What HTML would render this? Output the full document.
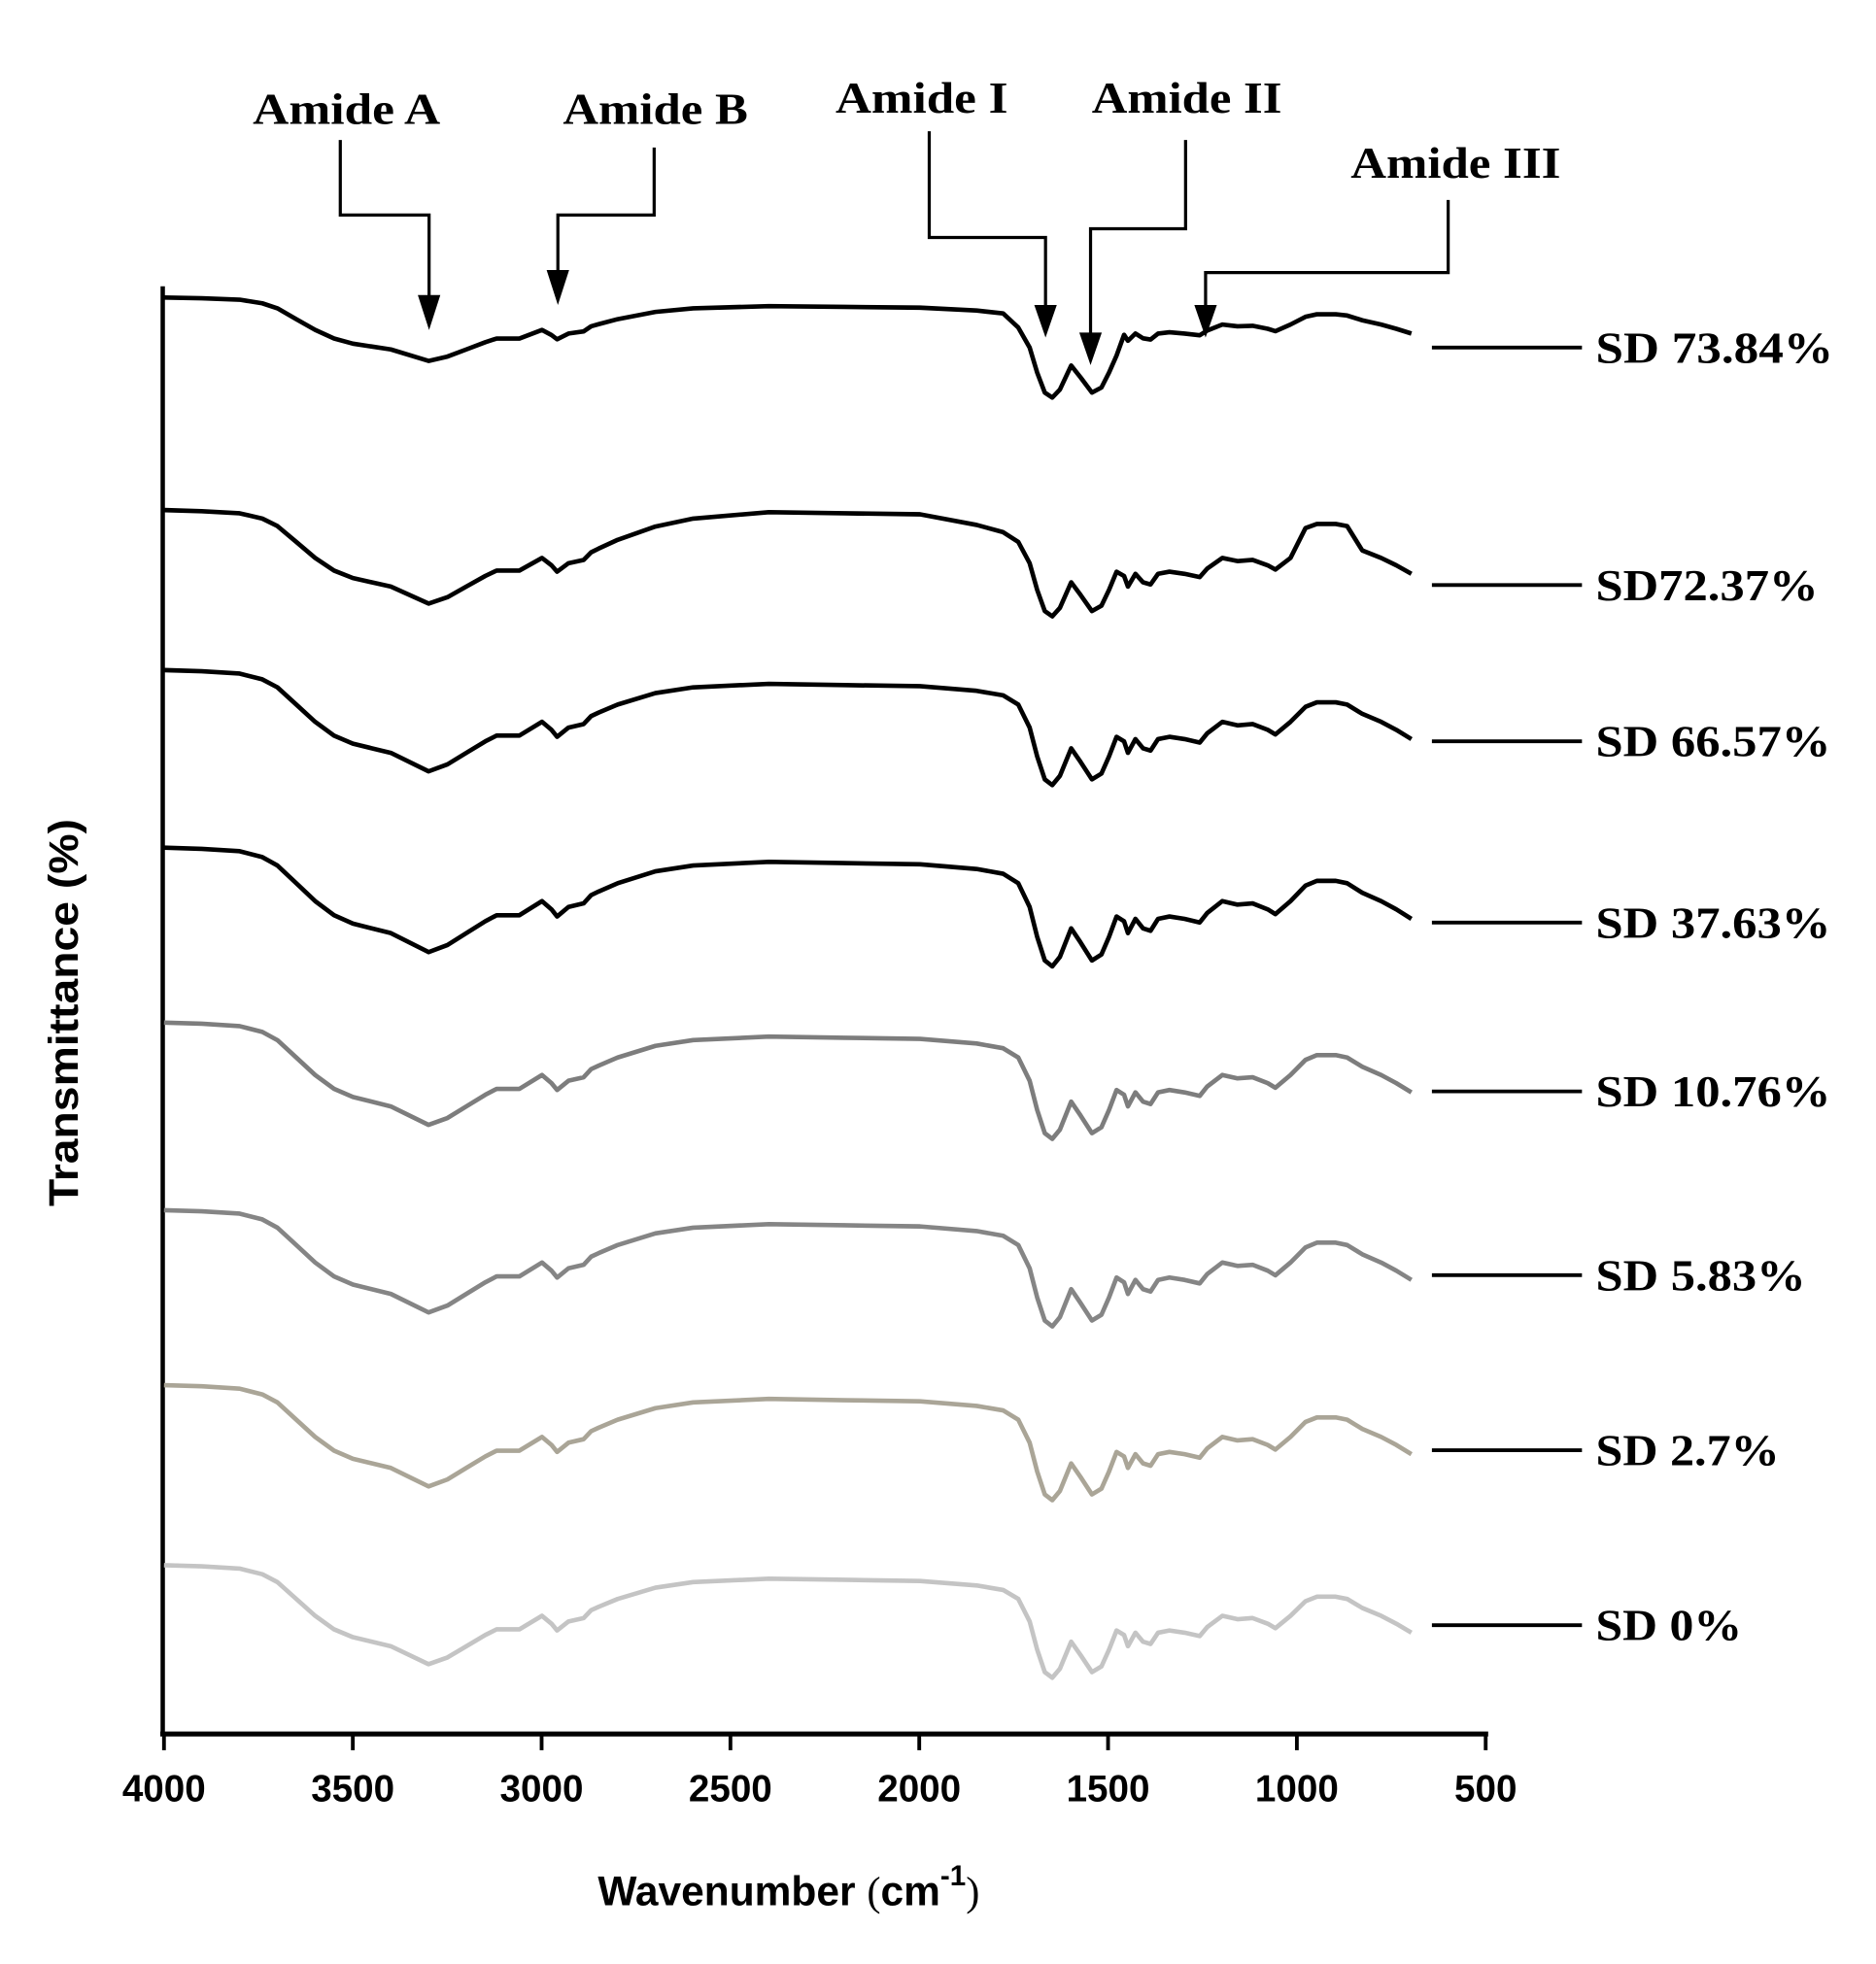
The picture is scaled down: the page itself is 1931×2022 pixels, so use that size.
<!DOCTYPE html>
<html><head><meta charset="utf-8"><style>
html,body{margin:0;padding:0;background:#fff;}
svg{display:block;}
.t{font-family:"Liberation Serif",serif;font-weight:bold;font-size:35px;fill:#000;}
.a{font-family:"Liberation Sans",sans-serif;font-weight:bold;fill:#000;}
</style></head><body>
<svg id="s" width="1931" height="2022" viewBox="0 0 1500 1571" xmlns="http://www.w3.org/2000/svg">
<rect width="1500" height="1571" fill="#fff"/>
<line x1="130" y1="229" x2="130" y2="1388" stroke="#000" stroke-width="3.5"/>
<line x1="128" y1="1387" x2="1190" y2="1387" stroke="#000" stroke-width="4"/>
<g stroke="#000" stroke-width="3">
<line x1="131" y1="1387" x2="131" y2="1400"/><line x1="282" y1="1387" x2="282" y2="1400"/>
<line x1="433" y1="1387" x2="433" y2="1400"/><line x1="584" y1="1387" x2="584" y2="1400"/>
<line x1="735" y1="1387" x2="735" y2="1400"/><line x1="886" y1="1387" x2="886" y2="1400"/>
<line x1="1037" y1="1387" x2="1037" y2="1400"/><line x1="1188" y1="1387" x2="1188" y2="1400"/>
</g>
<g class="a" font-size="30" text-anchor="middle">
<text x="131" y="1441">4000</text><text x="282" y="1441">3500</text><text x="433" y="1441">3000</text>
<text x="584" y="1441">2500</text><text x="735" y="1441">2000</text><text x="886" y="1441">1500</text>
<text x="1037" y="1441">1000</text><text x="1188" y="1441">500</text>
</g>
<text class="a" font-size="33" x="478" y="1524">Wavenumber <tspan font-family="Liberation Serif" font-weight="normal">(</tspan>cm<tspan font-size="23" dy="-16">-1</tspan><tspan font-family="Liberation Serif" font-weight="normal" dy="16">)</tspan></text>
<text class="a" font-size="33" transform="translate(62,810) rotate(-90)" text-anchor="middle" textLength="310" lengthAdjust="spacingAndGlyphs">Transmittance (%)</text>
<g class="t">
<text x="202" y="99" textLength="150" lengthAdjust="spacingAndGlyphs">Amide A</text>
<text x="450" y="99" textLength="148" lengthAdjust="spacingAndGlyphs">Amide B</text>
<text x="668" y="90" textLength="138" lengthAdjust="spacingAndGlyphs">Amide I</text>
<text x="873" y="90" textLength="152" lengthAdjust="spacingAndGlyphs">Amide II</text>
<text x="1080" y="142" textLength="168" lengthAdjust="spacingAndGlyphs">Amide III</text>
</g>
<g fill="none" stroke="#000" stroke-width="2.5">
<polyline points="272,112 272,172 343,172 343,240"/>
<polyline points="523,118 523,172 446,172 446,222"/>
<polyline points="743,105 743,190 836,190 836,248"/>
<polyline points="948,112 948,183 872,183 872,270"/>
<polyline points="1158,160 1158,218 964,218 964,248"/>
</g>
<g fill="#000">
<polygon points="334,236 352,236 343,264"/>
<polygon points="437,216 455,216 446,244"/>
<polygon points="827,244 845,244 836,270"/>
<polygon points="863,266 881,266 872,292"/>
<polygon points="955,244 973,244 964,270"/>
</g>
<g id="curves"></g>
<g class="t" id="labels"></g>
</svg>
<script>
var P=[[4000,0],[3900,.01],[3800,.03],[3740,.08],[3700,.15],[3650,.3],[3600,.45],[3550,.57],[3500,.64],[3400,.72],[3300,.88],[3250,.82],[3200,.72],[3150,.62],[3120,.57],[3060,.57],[3000,.45],[2975,.52],[2960,.58],[2930,.5],[2890,.47],[2870,.4],[2850,.37],[2800,.3],[2700,.2],[2600,.15],[2400,.12],[2200,.13],[2000,.14],[1850,.18],[1780,.22],[1740,.3],[1710,.5],[1690,.75],[1670,.95],[1650,1.0],[1630,.92],[1600,.68],[1575,.8],[1545,.95],[1520,.9],[1500,.75],[1480,.58],[1460,.62],[1450,.72],[1430,.6],[1410,.68],[1390,.7],[1370,.6],[1340,.58],[1300,.6],[1260,.63],[1240,.55],[1200,.45],[1160,.48],[1120,.47],[1080,.52],[1060,.56],[1020,.45],[980,.32],[950,.28],[900,.28],[870,.3],[830,.38],[780,.45],[740,.52],[700,.6]];
var C=[
 [238,80,"#000","SD 73.84%",278,190],
 [408,85,"#000","SD72.37%",468,178],
 [536,92,"#000","SD 66.57%",593,188],
 [678,95,"#000","SD 37.63%",738,188],
 [818,93,"#7d7d7d","SD 10.76%",873,188],
 [968,93,"#858585","SD 5.83%",1020,168],
 [1108,92,"#aaa597","SD 2.7%",1160,147],
 [1252,90,"#c4c4c4","SD 0%",1300,117]];
function X(w){return 131+(4000-w)*0.3023;}
var g=document.getElementById("curves"),lb=document.getElementById("labels"),ns="http://www.w3.org/2000/svg";
C.forEach(function(c,i){
 var pts=P.map(function(p){var d=p[1],w=p[0];
   if(i==0){ if(w>1750) d=d*0.72; else if(w<1480) d=d*0.6;}
   if(i==1){ if(w<2880&&w>1750){var f=Math.min(1,(2880-w)/400,(w-1750)/250);d=d-0.1*f;} if(w<1000&&w>850) d=d-0.15;}
   return X(w).toFixed(1)+","+(c[0]+d*c[1]).toFixed(1);});
 var pl=document.createElementNS(ns,"polyline");
 pl.setAttribute("points",pts.join(" "));pl.setAttribute("fill","none");
 pl.setAttribute("stroke",c[2]);pl.setAttribute("stroke-width","3.6");pl.setAttribute("stroke-linejoin","round");
 g.appendChild(pl);
 var ln=document.createElementNS(ns,"line");
 ln.setAttribute("x1",1145);ln.setAttribute("x2",1265);ln.setAttribute("y1",c[4]);ln.setAttribute("y2",c[4]);
 ln.setAttribute("stroke","#000");ln.setAttribute("stroke-width","3");g.appendChild(ln);
 var t=document.createElementNS(ns,"text");t.setAttribute("x",1276);t.setAttribute("y",c[4]+12);
 t.setAttribute("textLength",c[5]);t.setAttribute("lengthAdjust","spacingAndGlyphs");
 t.textContent=c[3];lb.appendChild(t);
});
</script>
</body></html>
